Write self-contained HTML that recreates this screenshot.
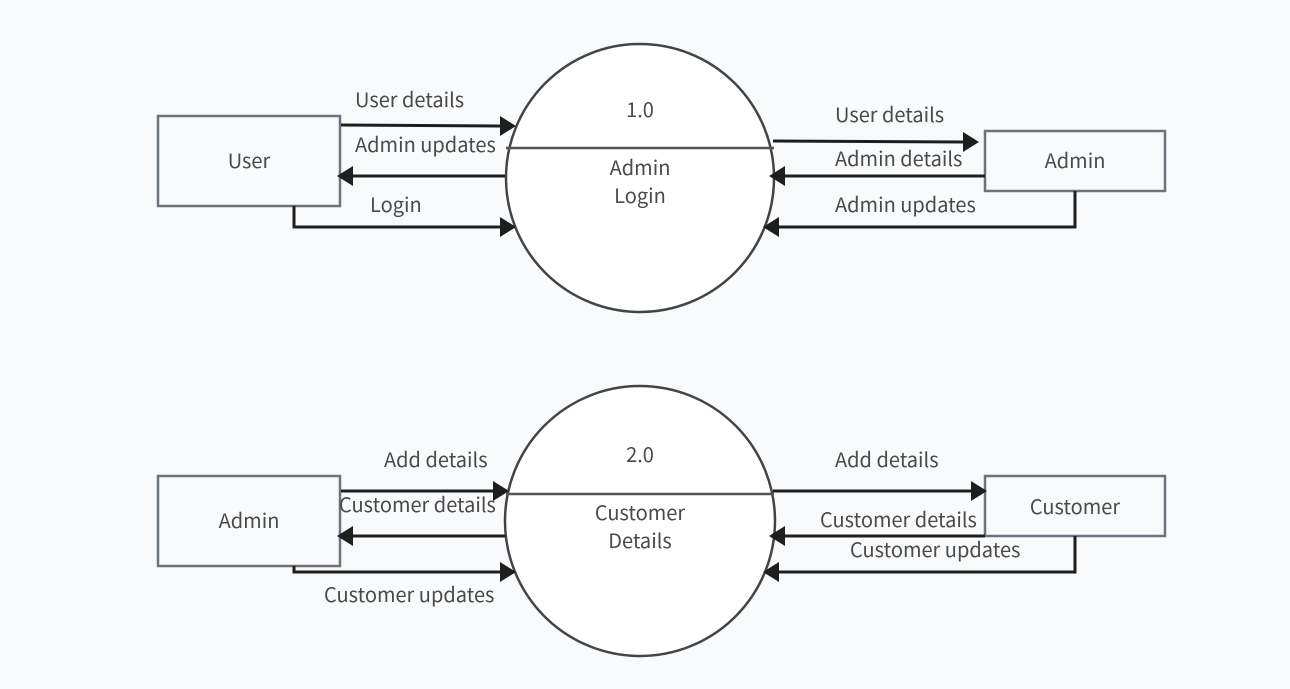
<!DOCTYPE html>
<html><head><meta charset="utf-8"><style>
html,body{margin:0;padding:0;background:#f9fafc;}
svg{display:block;}
text{font-family:"Noto Sans CJK SC","Liberation Sans",sans-serif;font-size:20px;fill:#4a4a4a;}
</style></head><body>
<svg width="1290" height="689" viewBox="0 0 1290 689" xmlns="http://www.w3.org/2000/svg">
<circle cx="640" cy="178" r="134" fill="#fff" stroke="#444" stroke-width="2.5"/>
<line x1="506" y1="148" x2="774" y2="148" stroke="#555" stroke-width="2.5"/>
<circle cx="640" cy="521" r="135" fill="#fff" stroke="#444" stroke-width="2.5"/>
<line x1="506" y1="494" x2="774" y2="494" stroke="#555" stroke-width="2.5"/>
<text x="640" y="117" text-anchor="middle">1.0</text>
<text x="640" y="175" text-anchor="middle">Admin</text>
<text x="640" y="203" text-anchor="middle">Login</text>
<text x="640" y="462" text-anchor="middle">2.0</text>
<text x="640" y="520" text-anchor="middle">Customer</text>
<text x="640" y="548" text-anchor="middle">Details</text>
<rect x="158" y="116" width="182" height="90" fill="#f9fafc" stroke="#6b737c" stroke-width="2.5"/>
<text x="249" y="168" text-anchor="middle">User</text>
<rect x="985" y="131" width="180" height="60" fill="#f9fafc" stroke="#6b737c" stroke-width="2.5"/>
<text x="1075" y="168" text-anchor="middle">Admin</text>
<rect x="158" y="476" width="182" height="90" fill="#f9fafc" stroke="#6b737c" stroke-width="2.5"/>
<text x="249" y="528" text-anchor="middle">Admin</text>
<rect x="985" y="476" width="180" height="60" fill="#f9fafc" stroke="#6b737c" stroke-width="2.5"/>
<text x="1075" y="514" text-anchor="middle">Customer</text>
<g stroke="#1e1e1e" stroke-width="3" fill="none">
<path d="M341 125 L500 126"/>
<path d="M505 176 L352 176"/>
<path d="M294 206 V227 H500"/>
<path d="M773 141 L963 142"/>
<path d="M985 176 L784 176"/>
<path d="M1075 191 V227 H778"/>
<path d="M341 491 H493"/>
<path d="M505 536 H352"/>
<path d="M294 566 V572 H500"/>
<path d="M773 491 H971"/>
<path d="M985 536 H784"/>
<path d="M1075 536 V572 H778"/>
</g>
<g fill="#1e1e1e">
<polygon points="500,116 516,126 500,136"/>
<polygon points="353,166 337,176 353,186"/>
<polygon points="500,217 516,227 500,237"/>
<polygon points="963,132 979,142 963,152"/>
<polygon points="785,166 769,176 785,186"/>
<polygon points="779,217 763,227 779,237"/>
<polygon points="493,481 509,491 493,501"/>
<polygon points="353,526 337,536 353,546"/>
<polygon points="500,562 516,572 500,582"/>
<polygon points="971,481 987,491 971,501"/>
<polygon points="785,526 769,536 785,546"/>
<polygon points="779,562 763,572 779,582"/>
</g>
<text x="355" y="107">User details</text>
<text x="355" y="152">Admin updates</text>
<text x="370" y="212">Login</text>
<text x="835" y="122">User details</text>
<text x="835" y="166">Admin details</text>
<text x="835" y="212">Admin updates</text>
<text x="384" y="467">Add details</text>
<text x="339" y="512">Customer details</text>
<text x="324" y="602">Customer updates</text>
<text x="835" y="467">Add details</text>
<text x="820" y="527">Customer details</text>
<text x="850" y="557">Customer updates</text>
</svg>
</body></html>
